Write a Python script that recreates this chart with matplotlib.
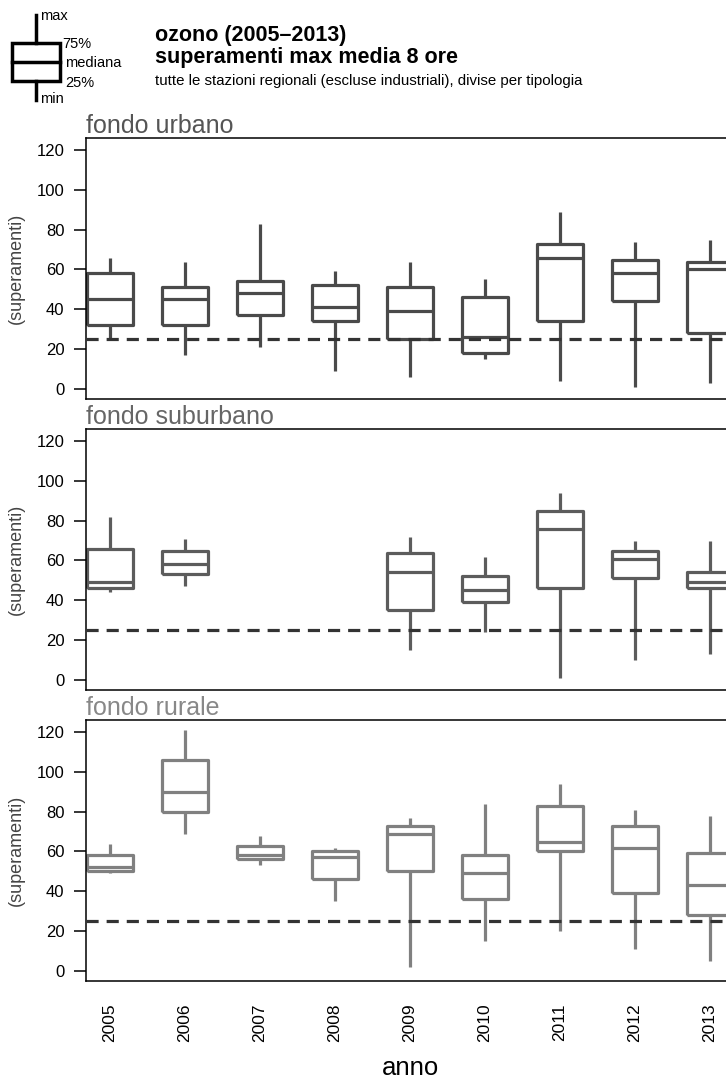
import numpy as np
import matplotlib
matplotlib.use("Agg")
import matplotlib.pyplot as plt
from matplotlib.patches import Rectangle

plt.rcParams['font.family'] = ['Liberation Sans', 'DejaVu Sans']

anni = ['2005', '2006', '2007', '2008', '2009', '2010', '2011', '2012', '2013']
soglia = 25

# fondo urbano: min, 25%, mediana, 75%, max
urb_min = [25, 17, 21, 9, 6, 15, 4, 1, 3]
urb_q1 = [32, 32, 37, 34, 25, 18, 34, 44, 28]
urb_med = [45, 45, 48, 41, 39, 26, 66, 58, 60]
urb_q3 = [58, 51, 54, 52, 51, 46, 73, 65, 64]
urb_max = [66, 64, 83, 59, 64, 55, 89, 74, 75]

# fondo suburbano (2007, 2008 senza dati)
sub_min = [44, 47, np.nan, np.nan, 15, 24, 1, 10, 13]
sub_q1 = [46, 53, np.nan, np.nan, 35, 39, 46, 51, 46]
sub_med = [49, 58, np.nan, np.nan, 54, 45, 76, 61, 49]
sub_q3 = [66, 65, np.nan, np.nan, 64, 52, 85, 65, 54]
sub_max = [82, 71, np.nan, np.nan, 72, 62, 94, 70, 70]

# fondo rurale
rur_min = [49, 69, 53, 35, 2, 15, 20, 11, 5]
rur_q1 = [50, 80, 56, 46, 50, 36, 60, 39, 28]
rur_med = [52, 90, 58, 57, 69, 49, 65, 62, 43]
rur_q3 = [58, 106, 63, 60, 73, 58, 83, 73, 59]
rur_max = [64, 121, 68, 62, 77, 84, 94, 81, 78]

pannelli = [
    ('fondo urbano', '#4a4a4a', '#555555', urb_min, urb_q1, urb_med, urb_q3, urb_max),
    ('fondo suburbano', '#5c5c5c', '#666666', sub_min, sub_q1, sub_med, sub_q3, sub_max),
    ('fondo rurale', '#808080', '#888888', rur_min, rur_q1, rur_med, rur_q3, rur_max),
]

fig = plt.figure(figsize=(7.26, 10.82), dpi=100, facecolor='white')

W, H = 726.0, 1082.0
ax_left = 86 / W
ax_w = (734 - 86) / W
tops = [138, 429, 720]
alt = 261

for i, (nome, col, col_tit, mn, q1, med, q3, mx) in enumerate(pannelli):
    top = tops[i]
    ax = fig.add_axes([ax_left, 1 - (top + alt) / H, ax_w, alt / H])
    stats = []
    pos = []
    for j in range(len(anni)):
        if np.isnan(med[j]):
            continue
        stats.append(dict(whislo=mn[j], q1=q1[j], med=med[j], q3=q3[j], whishi=mx[j], fliers=[]))
        pos.append(j + 1)
    lp = dict(color=col, linewidth=2.3, solid_capstyle='butt')
    ax.bxp(stats, positions=pos, widths=0.62, showcaps=False, showfliers=False,
           boxprops=lp, whiskerprops=lp, medianprops=lp)
    ax.axhline(soglia, color='#333333', lw=2.3, ls=(0, (3.8, 2.5)), zorder=5)
    ax.set_xlim(0.68, 9.32)
    ax.set_ylim(-5, 126)
    ax.set_yticks(range(0, 121, 20))
    ax.tick_params(axis='y', direction='out', length=8.5, width=1.1, labelsize=12, pad=7)
    ax.set_ylabel('(superamenti)', fontsize=13, color='#444444', va='center')
    ax.yaxis.set_label_coords(-0.107, 0.5)
    for s in ax.spines.values():
        s.set_linewidth(1.1)
    ax.set_title(nome, loc='left', fontsize=18, color=col_tit, pad=1)
    if i < 2:
        ax.set_xticks([])
    else:
        ax.set_xticks(range(1, len(anni) + 1))
        ax.set_xticklabels(anni, rotation=90, fontsize=12.5)
        ax.tick_params(axis='x', length=0, pad=16)
        ax.set_xlabel('anno', fontsize=18.5, va='center')
        ax.xaxis.set_label_coords(0.5, -0.333)

# legenda del boxplot
lg = fig.add_axes([0, 1 - 110 / H, 150 / W, 110 / H])
lg.set_xlim(0, 150)
lg.set_ylim(110, 0)
lg.axis('off')
lg.plot([36, 36], [15, 43], color='black', lw=2.5)
lg.plot([36, 36], [81, 100], color='black', lw=2.5)
lg.add_patch(Rectangle((12, 43), 48, 38, fill=False, ec='black', lw=2.5))
lg.plot([12, 60], [62, 62], color='black', lw=2.5)
lg.text(40, 16, 'max', fontsize=10.5, va='center')
lg.text(62, 44, '75%', fontsize=10.5, va='center')
lg.text(65, 63, 'mediana', fontsize=10.5, va='center')
lg.text(65, 83, '25%', fontsize=10.5, va='center')
lg.text(40, 99, 'min', fontsize=10.5, va='center')

fig.text(155 / W, 1 - 35 / H, 'ozono (2005\u20132013)', fontsize=15.5, fontweight='bold', va='center')
fig.text(155 / W, 1 - 57 / H, 'superamenti max media 8 ore', fontsize=15.5, fontweight='bold', va='center')
fig.text(155 / W, 1 - 81 / H, 'tutte le stazioni regionali (escluse industriali), divise per tipologia',
         fontsize=10.8, va='center')

fig.savefig('out.png', dpi=100, facecolor='white')
